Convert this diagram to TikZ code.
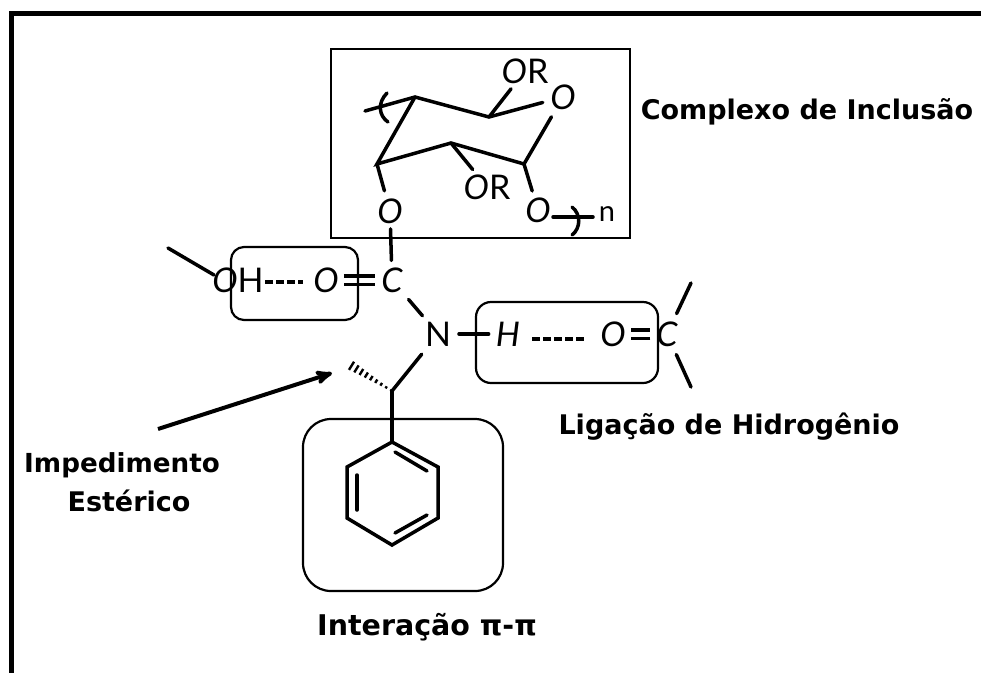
\documentclass[tikz,border=0pt]{standalone}
\usepackage{fontspec}
\usepackage{tikz}
\usetikzlibrary{arrows,calc,positioning}
\setmainfont{Lato}
\newfontfamily\labelfont{DejaVu Sans}

\begin{document}
\begin{tikzpicture}[x=1pt,y=-1pt,node distance=70pt,>=stealth']
	\tikzstyle{atom}=[circle, inner sep=0pt, minimum size=28pt, font=\fontsize{34}{34}\selectfont]
	\tikzstyle{bond}=[line width=3.5pt, line cap=round]
	\tikzstyle{dbond}=[line width=3.3pt, double, double distance=5pt]
	\tikzstyle{hbond}=[line width=3.5pt, dash pattern=on 8pt off 3pt]
	\tikzstyle{box}=[draw=black, line width=2.2pt]
	\tikzstyle{caption}=[inner sep=0pt, font=\labelfont\bfseries\fontsize{27}{27}\selectfont]

	\useasboundingbox (0,0) rectangle (981,673);
	\fill [black] (9,11) rectangle (981,16);
	\fill [black] (9,11) rectangle (14,673);

	% sugar ring
	\draw [box, line width=2.6pt] (331,49) rectangle (630,238);
	\coordinate (r1) at (415,97);
	\coordinate (r2) at (489,117);
	\coordinate (r3) at (524,164);
	\coordinate (r4) at (451,143);
	\coordinate (r5) at (377,164);
	\coordinate (e1) at (365,111);
	\coordinate (e2) at (593,217);
	\coordinate (s2) at (553,217);
	\node [atom] (o5) at (563,97) {\itshape O};
	\node [atom] (o1) at (390,211) {\itshape O};
	\node [atom] (o2) at (538,210) {\itshape O};
	\node [atom] (or1) at (525,71) {{\itshape O}R};
	\node [atom] (or2) at (487,187) {{\itshape O}R};
	\node [atom, font=\fontsize{29}{29}\selectfont] (n) at (607,214) {n};
	\draw [bond] (e1) -- (r1) -- (r2);
	\draw [bond] (r1) -- (r5) -- (r4) -- (r3);
	\draw [bond, shorten >=3pt] (r2) -- (o5);
	\draw [bond, shorten >=5pt] (r3) -- (o5);
	\draw [bond, shorten >=-4pt] (r2) -- (or1);
	\draw [bond, shorten >=-4pt] (r4) -- (or2);
	\draw [bond, shorten >=3pt] (r5) -- (o1);
	\draw [bond, shorten >=2pt] (r3) -- (o2);
	\draw [bond] (s2) -- (e2);
	\draw [bond] (387,93) .. controls (377,103) and (379,116) .. (388,122);
	\draw [bond] (572,207) .. controls (581,214) and (581,228) .. (572,235);

	% chain with the two carbonyls
	\node [atom] (c1) at (392,280) {\itshape C};
	\node [atom] (o3) [left of=c1, node distance=66pt] {\itshape O} edge [dbond] (c1);
	\node [atom] (oh) [left of=o3, node distance=88pt] {{\itshape O}H};
	\coordinate (e3) at (168,248);
	\coordinate (s3) at (214,275);
	\coordinate (d1) at (265,282);
	\coordinate (d2) at (303,282);
	\node [atom] (n1) at (438,334) {N};
	\node [atom] (h1) [right of=n1] {\itshape H};
	\node [atom] (o4) [right of=n1, node distance=175pt] {\itshape O};
	\node [atom] (c2) [right of=o4, node distance=54pt] {\itshape C} edge [dbond] (o4);
	\coordinate (d3) at (532,339);
	\coordinate (d4) at (585,339);
	\coordinate (e4) at (691,283);
	\coordinate (e5) at (691,387);
	\coordinate (ch) at (392,391);
	\coordinate (me) at (347,363);
	\draw [bond, shorten <=3pt] (c1) -- (o1);
	\draw [bond, shorten >=6pt, shorten <=9pt] (c1) -- (n1);
	\draw [bond] (e3) -- (s3);
	\draw [hbond] (d1) -- (d2);
	\draw [bond, shorten <=3pt, shorten >=2pt] (n1) -- (h1);
	\draw [hbond] (d3) -- (d4);
	\draw [bond, shorten <=6pt] (c2) -- (e4);
	\draw [bond, shorten <=6pt] (c2) -- (e5);
	\draw [bond, shorten <=8pt] (n1) -- (ch);
	\foreach \f/\w in {0.02/0.8,0.13/1.2,0.24/1.6,0.35/2.0,0.46/2.5,0.57/3.0,0.68/3.5,0.79/4.1,0.90/4.8,1.0/5.5}
		\draw [line width=2.4pt] ($(ch)!\f!(me)!\w pt!90:(me)$) -- ($(ch)!\f!(me)!\w pt!-90:(me)$);

	% phenyl
	\coordinate (b1) at (392,442);
	\coordinate (b2) at (438,467);
	\coordinate (b3) at (438,518);
	\coordinate (b4) at (392,545);
	\coordinate (b5) at (347,518);
	\coordinate (b6) at (347,467);
	\draw [bond] (ch) -- (b1);
	\draw [bond] (b1) -- (b2) -- (b3) -- (b4) -- (b5) -- (b6) -- cycle;
	\coordinate (i1) at (395,452);
	\coordinate (i2) at (427,471);
	\coordinate (i3) at (427,515);
	\coordinate (i4) at (395,533);
	\coordinate (i5) at (357,510);
	\coordinate (i6) at (357,475);
	\draw [bond] (i1) -- (i2);
	\draw [bond] (i3) -- (i4);
	\draw [bond] (i5) -- (i6);

	% the rounded boxes
	\draw [box, rounded corners=13pt] (231,247) rectangle (358,320);
	\draw [box, rounded corners=15pt] (476,302) rectangle (658,383);
	\draw [box, rounded corners=28pt] (303,419) rectangle (503,591);

	% captions
	\node [caption] (inclusao) at (807,112) {Complexo de Inclusão};
	\node [caption] (hidrogenio) at (729,427) {Ligação de Hidrogênio};
	\node [caption, font=\labelfont\bfseries\fontsize{28.5}{28.5}\selectfont] (interacao) at (427,627) {Interação π-π};
	\node [caption, font=\labelfont\bfseries\fontsize{26.2}{26.2}\selectfont] (impedimento) at (122,465) {Impedimento};
	\node [caption] (esterico) at (129,501) {Estérico};
	\coordinate (alvo) at (332,373);
	\coordinate (inicio) at (158,429);
	\draw [->, line width=4pt] (inicio) -- (alvo);
\end{tikzpicture}
\end{document}
